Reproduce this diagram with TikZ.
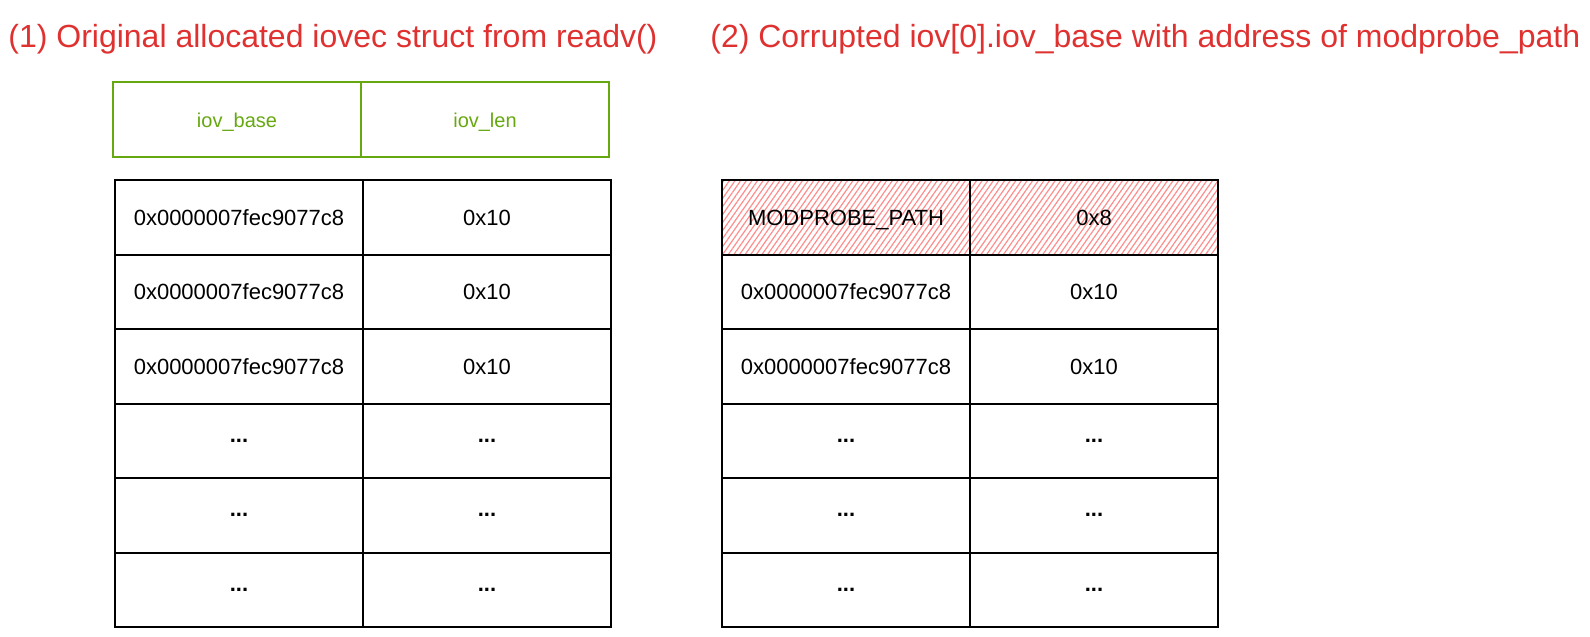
\documentclass[tikz,border=0pt]{standalone}
\usepackage{fontspec}
\setmainfont{Liberation Sans}
\usepackage{xcolor}
\usepackage{tikz}
\definecolor{titlered}{RGB}{224, 49, 49}
\definecolor{hdrgreen}{RGB}{102, 168, 15}
\definecolor{hatchred}{RGB}{255, 140, 140}
\usetikzlibrary{positioning, patterns.meta}

\begin{document}
\begin{tikzpicture}[
    x=0.5pt, y=-0.5pt,
    node distance=0pt,
    slotbox/.style={rectangle, draw=black, line width=1pt,
                    minimum width=124pt, minimum height=37.25pt,
                    inner sep=0pt, outer sep=0pt,
                    font=\fontsize{11}{13}\selectfont},
    cellbox/.style={slotbox, text height=8pt, text depth=0pt},
    hdrbox/.style={cellbox, draw=hdrgreen, text=hdrgreen,
                   font=\fontsize{10}{12}\selectfont},
    badbox/.style={cellbox,
                   pattern={Lines[angle=55, distance=2.3pt, line width=0.6pt]},
                   pattern color=hatchred},
    titletext/.style={anchor=base west, inner sep=0pt, text=titlered,
                      font=\fontsize{16}{19}\selectfont}
]
    \useasboundingbox (0,0) rectangle (1590,637);

    \node[titletext] (ttlorig) at (8,47) {(1) Original allocated iovec struct from readv()};
    \node[titletext] (ttlcorr) at (710,47) {(2) Corrupted iov[0].iov\_base with address of modprobe\_path};

    % original iovec array
    \node[hdrbox, anchor=north west] (hbase) at (113,82) {iov\_base};
    \node[hdrbox, right=of hbase] (hlen) {iov\_len};

    \node[cellbox, anchor=north west] (lb1) at (115,180) {0x0000007fec9077c8};
    \node[cellbox, right=of lb1] (ll1) {0x10};
    \node[cellbox, below=of lb1] (lb2) {0x0000007fec9077c8};
    \node[cellbox, right=of lb2] (ll2) {0x10};
    \node[cellbox, below=of lb2] (lb3) {0x0000007fec9077c8};
    \node[cellbox, right=of lb3] (ll3) {0x10};
    \foreach \i [evaluate=\i as \p using int(\i-1)] in {4,5,6} {
        \node[slotbox, below=of lb\p] (lb\i) {\textbf{...}};
        \node[slotbox, right=of lb\i] (ll\i) {\textbf{...}};
    }

    % corrupted iovec array
    \node[badbox, anchor=north west] (rb1) at (722,180) {MODPROBE\_PATH};
    \node[badbox, right=of rb1] (rl1) {0x8};
    \node[cellbox, below=of rb1] (rb2) {0x0000007fec9077c8};
    \node[cellbox, right=of rb2] (rl2) {0x10};
    \node[cellbox, below=of rb2] (rb3) {0x0000007fec9077c8};
    \node[cellbox, right=of rb3] (rl3) {0x10};
    \foreach \i [evaluate=\i as \p using int(\i-1)] in {4,5,6} {
        \node[slotbox, below=of rb\p] (rb\i) {\textbf{...}};
        \node[slotbox, right=of rb\i] (rl\i) {\textbf{...}};
    }
\end{tikzpicture}
\end{document}
